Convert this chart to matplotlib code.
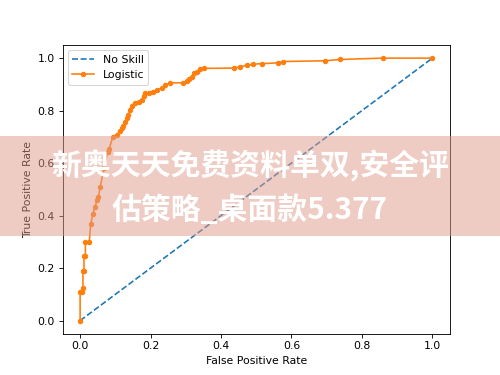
import matplotlib
matplotlib.use('Agg')
import matplotlib.pyplot as plt
from matplotlib.patches import Rectangle

# ROC points
fpr = [0.000, 0.000, 0.005, 0.008, 0.008, 0.011, 0.011, 0.015, 0.015, 0.026,
       0.030, 0.036, 0.042, 0.049, 0.052, 0.057, 0.068, 0.078, 0.082, 0.093,
       0.104, 0.112, 0.118, 0.123, 0.128, 0.133, 0.137, 0.142, 0.147, 0.156,
       0.166, 0.175, 0.180, 0.185, 0.195, 0.208, 0.218, 0.232, 0.241, 0.256,
       0.293, 0.303, 0.310, 0.317, 0.322, 0.331, 0.341, 0.352, 0.438, 0.455,
       0.474, 0.492, 0.516, 0.561, 0.576, 0.696, 0.739, 0.859, 1.000]
tpr = [0.000, 0.110, 0.110, 0.125, 0.190, 0.190, 0.245, 0.245, 0.300, 0.300,
       0.367, 0.405, 0.434, 0.460, 0.472, 0.510, 0.580, 0.643, 0.653, 0.700,
       0.707, 0.722, 0.735, 0.743, 0.758, 0.771, 0.783, 0.802, 0.819, 0.828,
       0.834, 0.840, 0.856, 0.866, 0.866, 0.872, 0.878, 0.885, 0.897, 0.906,
       0.906, 0.914, 0.919, 0.929, 0.942, 0.948, 0.957, 0.961, 0.962, 0.968,
       0.972, 0.977, 0.979, 0.982, 0.987, 0.990, 0.995, 1.000, 1.000]
ns_fpr = [0.0, 1.0]
ns_tpr = [0.0, 1.0]

banner_lines = ['新奥天天免费资料单双,安全评', '估策略_桌面款5.377']

fig = plt.figure(figsize=(6.4, 4.8), dpi=78.125)
ax = fig.add_subplot(111)
ax.plot(ns_fpr, ns_tpr, linestyle='--', label='No Skill')
ax.plot(fpr, tpr, marker='.', markersize=8, label='Logistic')
ax.set_xlabel('False Positive Rate')
ax.set_ylabel('True Positive Rate')
ax.legend(loc='upper left')

# semi-transparent banner across the middle
fig.add_artist(Rectangle((0, 1 - 236 / 375), 1, 100 / 375,
                         transform=fig.transFigure, facecolor='#e09a88',
                         alpha=0.5, edgecolor='none', zorder=5))
for text, ypix in zip(banner_lines, [166, 210]):
    fig.text(0.5, 1 - ypix / 375, text, ha='center', va='center',
             fontsize=27.5, fontweight='bold', color='white',
             family=['Noto Sans CJK SC', 'DejaVu Sans'], zorder=6)

fig.savefig('out.png', dpi=78.125)
